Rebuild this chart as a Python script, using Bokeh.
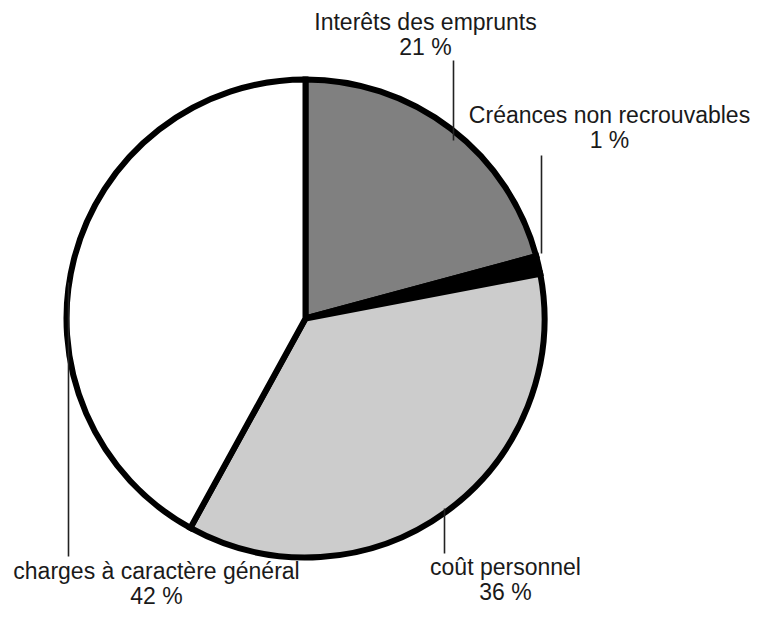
import numpy as np
from bokeh.plotting import figure
from bokeh.models import Range1d, ColumnDataSource
from bokeh.core.properties import value
from bokeh.embed import file_html
from bokeh.resources import INLINE

# ---- data ----
categories = ["Interêts des emprunts", "Créances non recrouvables",
              "coût personnel", "charges à caractère général"]
shares = [20.8, 1.2, 36.0, 42.0]
pct_labels = ["21 %", "1 %", "36 %", "42 %"]
colors = ["#808080", "#000000", "#cccccc", "#ffffff"]

# ---- layout (pixel positions; y is negated so the plot is y-up) ----
W, H = 753, 608
cx, cy, R = 305, 318, 239
label_x = [425, 609, 505, 156]
label_base = [21, 114, 566, 570]
line_gap = 25
leader_x = [453, 541, 444, 68]
leader_top = [60, 155, 508, 282]
leader_bot = [140, 253, 553, 556]

tot = float(np.sum(shares))
cum = np.concatenate([[0.0], np.cumsum(shares)]) / tot
start = np.pi / 2 - 2 * np.pi * cum[:-1]
end = np.pi / 2 - 2 * np.pi * cum[1:]

p = figure(width=W, height=H, output_backend="svg", toolbar_location=None,
           x_range=Range1d(0, W), y_range=Range1d(-H, 0),
           x_axis_location=None, y_axis_location=None, min_border=0,
           outline_line_color=None)
p.grid.visible = False
p.background_fill_color = "white"
p.border_fill_color = "white"

src = ColumnDataSource(dict(cat=categories, start=start, end=end, color=colors))
p.wedge(x=cx, y=-cy, radius=R, start_angle="start", end_angle="end",
        direction="clock", fill_color="color", line_color="black",
        line_width=6, line_join="miter", source=src)

# leader lines
p.segment(x0=leader_x, y0=[-v for v in leader_top], x1=leader_x,
          y1=[-v for v in leader_bot], line_color="#222222", line_width=1.6)

font = value("Liberation Sans")
p.text(x=label_x, y=[-v for v in label_base], text=categories,
       text_font=font, text_font_size="23px", text_align="center",
       text_baseline="alphabetic", text_color="#1a1a1a")
p.text(x=label_x, y=[-(v + line_gap) for v in label_base], text=pct_labels,
       text_font=font, text_font_size="23px", text_align="center",
       text_baseline="alphabetic", text_color="#1a1a1a")

open("out.html", "w").write(file_html(p, INLINE))
